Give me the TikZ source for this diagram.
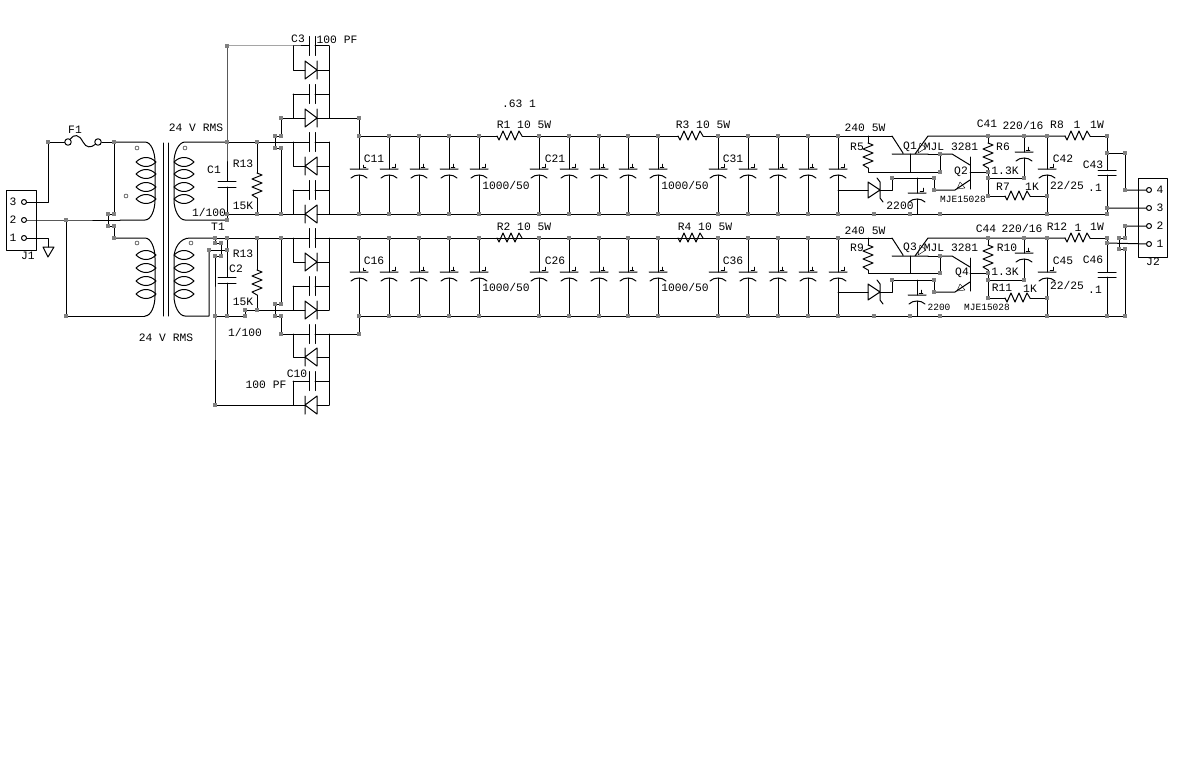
\documentclass[tikz,border=0pt]{standalone}
\usepackage{fontspec}
\setmainfont{Liberation Mono}
\newcounter{lblc}
\newcommand{\lb}[3]{\stepcounter{lblc}\node[lbl] (L\arabic{lblc}) at (#1,#2) {#3};}
\newcommand{\lens}[2]{\draw (#1-10,#2) .. controls (#1-4,#2-6) and (#1+4,#2-6) .. (#1+10,#2) .. controls (#1+4,#2+6) and (#1-4,#2+6) .. (#1-10,#2);}
\newcommand{\vcapH}[3]{\draw (#1-#3,#2) -- (#1+#3,#2) (#1-#3,#2+6) -- (#1+#3,#2+6);}
\newcommand{\pl}[3]{\draw (#1-#3,#2) -- (#1+#3,#2) (#1-#3+1,#2+9) .. controls (#1-4,#2+5) and (#1+4,#2+5) .. (#1+#3-1,#2+9);}
\newcommand{\tickA}[2]{\draw[thin] (#1+3,#2-2) -- (#1+6,#2-2) -- (#1+6,#2-5);}
\newcommand{\tickB}[2]{\draw[thin] (#1+2,#2-2) -- (#1+6,#2-2) (#1+4,#2-2) -- (#1+4,#2-5);}
\newcommand{\nonpol}[2]{\draw (309,#2-9.5) -- (309,#2+9.5) (315,#2-9.5) -- (315,#2+9.5);}
\newcommand{\dioR}[1]{\draw (305,#1-9) -- (305,#1+9) -- (317,#1) -- cycle (317,#1-9) -- (317,#1+9);}
\newcommand{\dioL}[1]{\draw (317,#1-9) -- (317,#1+9) -- (305,#1) -- cycle (305,#1-9) -- (305,#1+9);}
\newcommand{\rh}[2]{\draw (#1,#2) -- ++(2,4) -- ++(4,-9) -- ++(4,9) -- ++(4,-9) -- ++(4,9) -- ++(4,-9) -- ++(3,5);}
\newcommand{\rv}[2]{\draw (#1,#2) -- ++(5,2) -- ++(-10,4) -- ++(10,4) -- ++(-10,4) -- ++(10,4) -- ++(-10,4) -- ++(5,3);}
\newcommand{\regdio}[1]{\draw (868,#1-8) -- (868,#1+8) -- (880,#1) -- cycle (877,#1-12) -- (880,#1-8) -- (880,#1+8) -- (883,#1+12);}
\tikzset{
  lbl/.style={inner sep=0pt,font=\fontsize{11.3}{12}\selectfont},
  jdot/.style={fill=black!50,draw=none,minimum size=4.5pt,inner sep=0pt,rectangle},
  pin/.style={circle,draw,minimum size=5pt,inner sep=0pt,fill=white},
  box/.style={draw,line width=1pt}
}
\begin{document}
\begin{tikzpicture}[x=1pt,y=-1pt,line width=1pt,line cap=round,line join=round]
\useasboundingbox (0,0) rectangle (1177,768);
\fill[white] (0,0) rectangle (1177,768);
\def\jlist{j48/48/142,j114/114/142,j66/66/220,jp1/108/214,jp2/114/214,jp3/108/226,jp4/114/226,jp5/114/238,j66b/66/316,
s46/227/46,s142/227/142,s214/227/214,s220/227/220,s238/227/238,s250/227/250,s316/227/316,
t1/215/238,t2/215/243,t3/221/243,t4/209/250,t5/221/256,t6/215/256,t7/215/316,t8/215/405,
r142/257/142,r214/257/214,r238/257/238,r310/257/310,q245a/245/310,q245b/245/316,
u1/281/118,u2/281/136,u3/275/136,u4/275/148,u5/281/148,u6/281/214,
v1/281/238,v2/281/304,v3/275/304,v4/275/316,v5/281/316,v6/281/334,
w118/359/118,w334/359/334,
e874a/874/214,e910a/910/214,e940a/940/214,e1047a/1047/214,e1107a/1107/214,
e874b/874/316,e910b/910/316,e940b/940/316,e1047b/1047/316,e1107b/1107/316,e1125b/1125/316,
a988/988/136,a1024/1024/136,a1047/1047/136,a1107/1107/136,a1107c/1107/153,a1125c/1125/153,a1125d/1125/190,a1107d/1107/208,
aq1/940/154,aq2/940/172,ad1/892/178,ad2/934/178,ad3/934/190,
a988b/988/172,a988c/988/178,a988d/988/196,a1024b/1024/178,a1047b/1047/196,
b988/988/238,b1024/1024/238,b1047/1047/238,b1107/1107/238,b1107c/1107/243,b1125a/1125/226,b1125b/1125/238,b1119a/1119/238,b1119b/1119/249,b1125c/1125/249,
bq1/940/256,bq2/940/273,bd1/892/280,bd2/934/280,bd3/934/292,
b988b/988/273,b988c/988/280,b988d/988/298,b1024b/1024/280,b1047b/1047/298}
\foreach \n/\x/\y in \jlist {\coordinate (\n) at (\x,\y);}
\foreach \x in {359,389,419,449,479,539,569,599,628,658,718,748,778,808,838} {
  \coordinate (ft\x) at (\x,136); \coordinate (fb\x) at (\x,214);
  \coordinate (gt\x) at (\x,238); \coordinate (gb\x) at (\x,316);
}
\coordinate (c3) at (48,202); \coordinate (gnd) at (48,247); \coordinate (gp) at (48,238);
% J1
\draw[box] (6,190) rectangle (36,250);
\lb{13}{202}{3}\lb{13}{220}{2}\lb{13}{238}{1}\lb{28}{256}{J1}
\node[pin] (n3) at (24,202) {}; \node[pin] (n2) at (24,220) {}; \node[pin] (n1) at (24,238) {};
\draw (n3) -- (c3) -- (j48) -- (65,142);
\draw (n2) -- (j66) -- (120,220);
\draw (n1) -- (gp) -- (gnd);
\draw (43,247) -- (54,247) -- (48,257) -- cycle;
\draw (j66) -- (j66b) -- (145,316);
% fuse
\node[pin,minimum size=6.5pt] (fa) at (68,142) {}; \node[pin,minimum size=6.5pt] (fb) at (98,142) {};
\draw (fa) .. controls (74,134) and (79,134) .. (83,142) .. controls (86,148) and (91,148) .. (fb);
\draw (fb) -- (j114);
\lb{75}{130}{F1}
% primary
\draw (j114) -- (145,142) .. controls (151,142) and (155,152) .. (155,162) -- (155,200) .. controls (155,210) and (151,220) .. (145,220) -- (120,220);
\draw (j114) -- (jp2) -- (jp1) -- (jp3) -- (jp4) -- (jp5);
\draw (jp5) -- (145,238) .. controls (151,238) and (155,248) .. (155,258) -- (155,296) .. controls (155,306) and (151,316) .. (145,316);
\foreach \y in {162,174,187,199,255,268,281,294} {\lens{146}{\y}}
\draw[thin] (137,148) circle (2) (126,196) circle (2) (137,243) circle (2) (185,148) circle (2) (191,243) circle (2);
% core
\draw (163,143) -- (163,316) (168,143) -- (168,316);
% secondaries
\draw (s142) -- (185,142) .. controls (179,142) and (174,152) .. (174,162) -- (174,200) .. controls (174,210) and (179,220) .. (185,220) -- (s220);
\draw (t1) -- (190,238) .. controls (180,238) and (174,248) .. (174,258) -- (174,296) .. controls (174,306) and (179,316) .. (185,316) -- (209,316) -- (t4);
\foreach \y in {162,174,187,199,255,268,281,294} {\lens{184}{\y}}
\draw (s214) -- (s220);
\draw (s46) -- (s142) -- (227,181) (227,187) -- (s214);
\vcapH{227}{181}{9}
\draw (s238) -- (227,277) (227,283) -- (s316);
\vcapH{227}{277}{9}
\draw (t1) -- (t2) -- (t3) -- (t5) -- (t6) -- (t7) -- (t8);
\draw (t4) -- (s250);
\draw (t1) -- (s238);
\draw (t7) -- (q245b);
\draw (q245b) -- (q245a);
% R13s
\draw (r142) -- (257,173); \rv{257}{173} \draw (257,198) -- (r214);
\draw (r238) -- (257,270); \rv{257}{270} \draw (257,295) -- (r310);
% top rectifier
\draw (s46) -- (293,46) -- (309,46) (315,46) -- (329,46); \nonpol{0}{46}
\draw (293,46) -- (293,70) -- (305,70) (317,70) -- (329,70); \dioR{70}
\draw (293,94) -- (309,94) (315,94) -- (329,94); \nonpol{0}{94}
\draw (293,94) -- (293,118);
\draw (u1) -- (305,118) (317,118) -- (w118); \dioR{118}
\draw (329,46) -- (329,118);
\draw (w118) -- (ft359);
\draw (u1) -- (u2) -- (u3) -- (u4) -- (u5) -- (u6);
\draw (s142) -- (309,142) (315,142) -- (329,142); \nonpol{0}{142}
\draw (293,142) -- (293,166) -- (305,166) (317,166) -- (329,166); \dioL{166}
\draw (293,190) -- (309,190) (315,190) -- (329,190); \nonpol{0}{190}
\draw (293,190) -- (293,214);
\draw (s214) -- (305,214) (317,214) -- (e1107a); \dioL{214}
\draw (329,142) -- (329,214);
% bottom rectifier
\draw (s238) -- (309,238) (315,238) -- (gt838); \nonpol{0}{238}
\draw (293,238) -- (293,262) -- (305,262) (317,262) -- (329,262); \dioR{262}
\draw (293,286) -- (309,286) (315,286) -- (329,286); \nonpol{0}{286}
\draw (293,286) -- (293,310);
\draw (q245a) -- (305,310) (317,310) -- (329,310); \dioR{310}
\draw (329,238) -- (329,310);
\draw (v1) -- (v2) -- (v3) -- (v4) -- (v5) -- (v6);
\draw (v6) -- (309,334) (315,334) -- (w334); \nonpol{0}{334}
\draw (w334) -- (gb359);
\draw (293,334) -- (293,357) -- (305,357) (317,357) -- (329,357); \dioL{357}
\draw (293,381) -- (309,381) (315,381) -- (329,381); \nonpol{0}{381}
\draw (293,381) -- (293,405);
\draw (t8) -- (305,405) (317,405) -- (329,405); \dioL{405}
\draw (329,334) -- (329,405);
% filter rails
\draw (ft359) -- (497,136); \rh{497}{136} \draw (522,136) -- (678,136); \rh{678}{136} \draw (703,136) -- (892,136);
\draw (gt359) -- (497,238); \rh{497}{238} \draw (522,238) -- (678,238); \rh{678}{238} \draw (703,238) -- (892,238);
\draw (gb359) -- (e1125b);
\foreach \x in {359,389,419,449,479,539,569,599,628,658,718,748,778,808,838} {
  \draw (ft\x) -- (\x,169) (\x,175) -- (fb\x); \pl{\x}{169}{9}
  \draw (gt\x) -- (\x,272) (\x,278) -- (gb\x); \pl{\x}{272}{9}
}
\foreach \x in {389,479,539,569,718,748,838} {\tickA{\x}{169}\tickA{\x}{272}}
\foreach \x in {419,449,599,628,658,778,808} {\tickB{\x}{169}\tickB{\x}{272}}
\draw[thin] (363,165) -- (363,167) -- (366,167) (363,268) -- (363,270) -- (366,270);
% ---------- upper regulator
\draw (868,136) -- (868,143); \rv{868}{143} \draw (868,168) -- (868,172) -- (aq2);
\draw (892,136) -- (903,153) (892,154) -- (928,154) (915,154) -- (928,136) -- (1065,136);
\draw (910,154) -- (910,172);
\draw[thin] (918,153) -- (920,143) -- (926,148) -- cycle;
\draw (aq1) -- (aq2);
\draw (928,154) -- (aq1);
\draw (aq1) -- (952,154) -- (970,165);
\draw (970,157) -- (970,189);
\draw (970,180) -- (955,190) -- (ad3);
\draw[thin] (957,189) -- (960,182) -- (965,188) -- cycle;
\draw (970,172) -- (a988b);
\draw (ft838 |- 0,190) -- (868,190) (880,190) -- (892,190) -- (ad1) -- (ad2) -- (ad3); \regdio{190}
\draw (917,178) -- (917,193) (917,199) -- (917,214); \pl{917}{193}{9}
\tickA{917}{193}
\draw (a988) -- (988,143); \rv{988}{143} \draw (988,168) -- (a988b) -- (a988c) -- (a988d);
\draw (a988c) -- (a1024b) -- (1024,158) (1024,152) -- (a1024);
\pl{1024}{152}{9}\tickB{1024}{152}
\draw (a1047) -- (1047,169) (1047,175) -- (e1047a); \pl{1047}{169}{9}\tickA{1047}{169}
\draw (a988d) -- (1005,196); \rh{1005}{196} \draw (1030,196) -- (a1047b);
\rh{1065}{136} \draw (1090,136) -- (a1107);
\draw (a1107) -- (1107,170) (1107,175) -- (a1107d) -- (e1107a); \draw (1098,170) -- (1116,170) (1098,175) -- (1116,175);
\draw (a1107c) -- (a1125c) -- (a1125d);
% ---------- lower regulator
\draw (868,238) -- (868,245); \rv{868}{245} \draw (868,270) -- (868,273) -- (bq2);
\draw (892,238) -- (903,255) (892,256) -- (928,256) (915,256) -- (928,238) -- (1065,238);
\draw (910,256) -- (910,273);
\draw[thin] (918,255) -- (920,245) -- (926,250) -- cycle;
\draw (bq1) -- (bq2);
\draw (928,256) -- (bq1);
\draw (bq1) -- (952,256) -- (970,267);
\draw (970,258) -- (970,291);
\draw (970,282) -- (955,292) -- (bd3);
\draw[thin] (957,291) -- (960,284) -- (965,290) -- cycle;
\draw (970,273) -- (b988b);
\draw (gt838 |- 0,292) -- (868,292) (880,292) -- (892,292) -- (bd1) -- (bd2) -- (bd3); \regdio{292}
\draw (917,280) -- (917,295) (917,301) -- (917,316); \pl{917}{295}{9}
\tickB{917}{295}
\draw (b988) -- (988,245); \rv{988}{245} \draw (988,270) -- (b988b) -- (b988c) -- (b988d);
\draw (b988c) -- (b1024b) -- (1024,259) (1024,253) -- (b1024);
\pl{1024}{253}{9}\tickB{1024}{253}
\draw (b1047) -- (1047,272) (1047,278) -- (e1047b); \pl{1047}{272}{9}\tickA{1047}{272}
\draw (b988d) -- (1005,298); \rh{1005}{298} \draw (1030,298) -- (b1047b);
\rh{1065}{238} \draw (1090,238) -- (b1107);
\draw (b1107) -- (1107,272) (1107,277) -- (e1107b); \draw (1098,272) -- (1116,272) (1098,277) -- (1116,277);
\draw (b1125a) -- (b1125b) -- (b1119a) -- (b1119b) -- (b1125c) -- (e1125b);
% J2
\draw[box] (1138,178) rectangle (1167,257);
\node[pin] (m4) at (1149,190) {}; \node[pin] (m3) at (1149,208) {}; \node[pin] (m2) at (1149,226) {}; \node[pin] (m1) at (1149,244) {};
\draw (a1125d) -- (m4) (a1107d) -- (m3) (b1125a) -- (m2) (b1107c) -- (m1);
\lb{1160}{190}{4}\lb{1160}{208}{3}\lb{1160}{226}{2}\lb{1160}{244}{1}\lb{1153}{262}{J2}
% labels
\lb{196}{128}{24 V RMS}\lb{166}{338}{24 V RMS}
\lb{298}{39}{C3}\lb{337}{40}{100 PF}
\lb{214}{170}{C1}\lb{243}{164}{R13}\lb{243}{206}{15K}\lb{209}{212}{1/100}\lb{218}{227}{T1}
\lb{243}{254}{R13}\lb{236}{269}{C2}\lb{243}{302}{15K}\lb{245}{332}{1/100}
\lb{297}{374}{C10}\lb{266}{385}{100 PF}
\lb{374}{159}{C11}\lb{555}{159}{C21}\lb{733}{159}{C31}
\lb{374}{261}{C16}\lb{555}{261}{C26}\lb{733}{261}{C36}
\lb{519}{104}{.63 1}
\lb{524}{125}{R1 10 5W}\lb{703}{125}{R3 10 5W}\lb{524}{227}{R2 10 5W}\lb{705}{227}{R4 10 5W}
\lb{506}{185}{1000/50}\lb{685}{185}{1000/50}\lb{506}{287}{1000/50}\lb{685}{287}{1000/50}
\lb{865}{128}{240 5W}\lb{857}{147}{R5}\lb{910}{147}{Q1}\lb{951}{147}{MJL 3281}\lb{961}{172}{Q2}
\lb{963}{199}{\fontsize{9.5}{10}\selectfont MJE15028}\lb{1003}{147}{R6}\lb{1005}{171}{1.3K}
\lb{987}{124}{C41}\lb{1023}{125}{220/16}\lb{1057}{125}{R8}\lb{1077}{125}{1}\lb{1097}{125}{1W}
\lb{1063}{159}{C42}\lb{1093}{165}{C43}\lb{1067}{185}{22/25}\lb{1095}{188}{.1}
\lb{1003}{187}{R7}\lb{1032}{187}{1K}\lb{900}{206}{2200}
\lb{865}{231}{240 5W}\lb{857}{248}{R9}\lb{910}{248}{Q3}\lb{951}{248}{MJL 3281}\lb{962}{273}{Q4}
\lb{939}{307}{\fontsize{9.5}{10}\selectfont 2200}\lb{987}{307}{\fontsize{9.5}{10}\selectfont MJE15028}
\lb{1007}{248}{R10}\lb{1005}{272}{1.3K}\lb{986}{229}{C44}\lb{1022}{228}{220/16}
\lb{1057}{227}{R12}\lb{1078}{228}{1}\lb{1097}{227}{1W}
\lb{1063}{261}{C45}\lb{1093}{260}{C46}\lb{1067}{285}{22/25}\lb{1095}{290}{.1}
\lb{1002}{288}{R11}\lb{1030}{289}{1K}
% junction dots
\foreach \n/\x/\y in \jlist {\node[jdot] (d\n) at (\n) {};}
\foreach \x in {359,389,419,449,479,539,569,599,628,658,718,748,778,808,838} {
  \node[jdot] (dft\x) at (ft\x) {}; \node[jdot] (dfb\x) at (fb\x) {};
  \node[jdot] (dgt\x) at (gt\x) {}; \node[jdot] (dgb\x) at (gb\x) {};
}
\end{tikzpicture}
\end{document}
